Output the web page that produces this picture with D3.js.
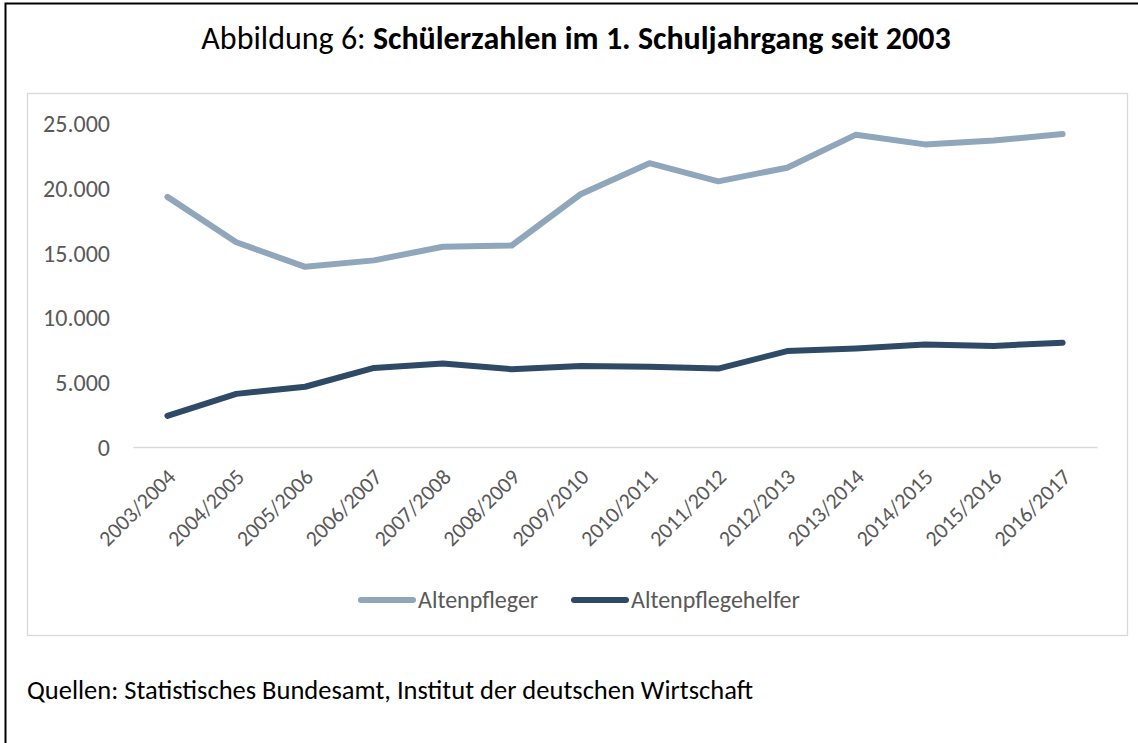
<!DOCTYPE html>
<html lang="de">
<head>
<meta charset="utf-8">
<title>Schülerzahlen im 1. Schuljahrgang</title>
<script src="https://d3js.org/d3.v7.min.js"></script>
<style>
  body { margin: 0; background: #fff; }
  text { font-family: Carlito, Calibri, Lato, sans-serif; }
</style>
</head>
<body>
<div id="graph"></div>
<script>
// data
const years = ["2003/2004", "2004/2005", "2005/2006", "2006/2007", "2007/2008", "2008/2009", "2009/2010",
  "2010/2011", "2011/2012", "2012/2013", "2013/2014", "2014/2015", "2015/2016", "2016/2017"];
const altenpfleger = [19300, 15800, 13900, 14400, 15450, 15550, 19500, 21900, 20500, 21550, 24100, 23350, 23650, 24150];
const altenpflegehelfer = [2400, 4100, 4650, 6100, 6450, 6000, 6250, 6200, 6050, 7400, 7600, 7900, 7800, 8050];
const yTicks = [0, 5000, 10000, 15000, 20000, 25000];
const seriesNames = ["Altenpfleger", "Altenpflegehelfer"];
const colors = ["#8fa6bb", "#2e4a66"];

const W = 1138, H = 743;
const svg = d3.select("#graph").append("svg")
  .attr("width", W).attr("height", H);

// outer frame
svg.append("rect")
  .attr("x", 5.5).attr("y", 3.5).attr("width", 1150).attr("height", 800)
  .attr("fill", "none").attr("stroke", "#000").attr("stroke-width", 2);

// title
const title = svg.append("text")
  .attr("x", 576).attr("y", 49)
  .attr("text-anchor", "middle")
  .attr("font-size", "32px")
  .attr("fill", "#000");
title.append("tspan").text("Abbildung 6: ");
title.append("tspan").attr("font-weight", "bold").text("Schülerzahlen im 1. Schuljahrgang seit 2003");

// chart box
svg.append("rect")
  .attr("x", 27.5).attr("y", 93.5).attr("width", 1100).attr("height", 542)
  .attr("fill", "#fff").attr("stroke", "#d9d9d9").attr("stroke-width", 1.3);

// scales
const x = d3.scaleBand().domain(years).range([133, 1097]);
const y = d3.scaleLinear().domain([0, 25000]).range([447, 123]);
const fmt = d3.formatLocale({ decimal: ",", thousands: ".", grouping: [3], currency: ["", " €"] }).format(",.0f");

// y axis (labels only)
const yAxis = svg.append("g")
  .attr("transform", "translate(110,0)")
  .call(d3.axisLeft(y).tickValues(yTicks).tickSize(0).tickPadding(0).tickFormat(fmt));
yAxis.select(".domain").remove();
yAxis.selectAll("text")
  .attr("font-size", "24px").attr("fill", "#595959").attr("dy", "0.35em");

// x axis baseline + rotated labels
const xAxis = svg.append("g")
  .attr("transform", `translate(0,${y(0)})`)
  .call(d3.axisBottom(x).tickSize(0).tickPadding(0));
xAxis.select(".domain").attr("stroke", "#d9d9d9").attr("stroke-width", 1.5);
xAxis.selectAll("text")
  .attr("font-size", "22px").attr("fill", "#595959")
  .attr("text-anchor", "end")
  .attr("dy", "0.35em")
  .attr("transform", "translate(4,26) rotate(-45)");

// lines
const line = d3.line()
  .x((d, i) => x(years[i]) + x.bandwidth() / 2)
  .y(d => y(d));

[altenpfleger, altenpflegehelfer].forEach((vals, k) => {
  svg.append("path")
    .datum(vals)
    .attr("d", line)
    .attr("fill", "none")
    .attr("stroke", colors[k])
    .attr("stroke-width", 6)
    .attr("stroke-linejoin", "round")
    .attr("stroke-linecap", "round");
});

// legend
const legendX = [359, 572];
seriesNames.forEach((name, k) => {
  const g = svg.append("g").attr("transform", `translate(${legendX[k]},600)`);
  g.append("line")
    .attr("x1", 2).attr("x2", 54).attr("y1", 0).attr("y2", 0)
    .attr("stroke", colors[k]).attr("stroke-width", 6).attr("stroke-linecap", "round");
  g.append("text")
    .attr("x", 59).attr("y", 0).attr("dy", "0.35em")
    .attr("font-size", "24px").attr("fill", "#595959")
    .text(name);
});

// source note
svg.append("text")
  .attr("x", 27).attr("y", 699)
  .attr("font-size", "26.5px").attr("fill", "#000")
  .text("Quellen: Statistisches Bundesamt, Institut der deutschen Wirtschaft");
</script>
</body>
</html>
